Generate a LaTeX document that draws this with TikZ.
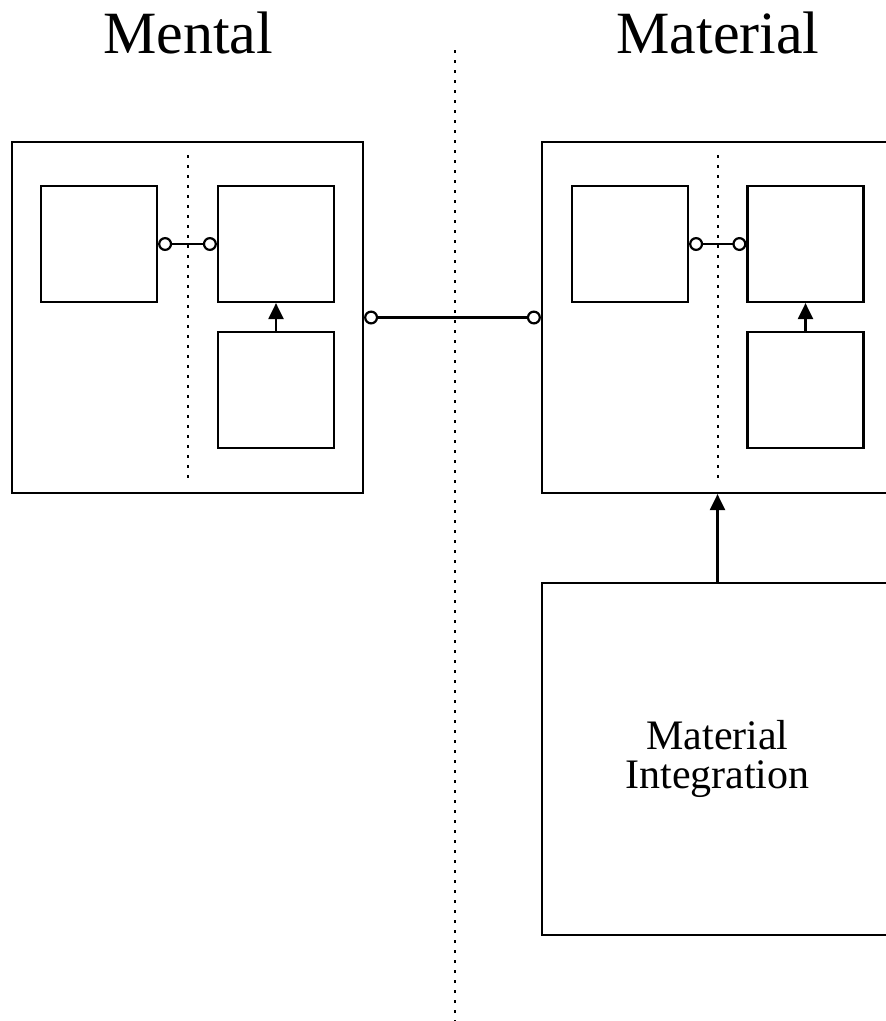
\documentclass[tikz,border=0pt]{standalone}
\usepackage{fontspec}
\setmainfont{Liberation Serif}
\usetikzlibrary{arrows.meta, positioning, calc}
\tikzset{
  outer/.style={draw, line width=2.2pt, minimum width=351pt, minimum height=351pt, inner sep=0pt},
  inner/.style={draw, line width=2.2pt, minimum width=116pt, minimum height=116pt, inner sep=0pt},
  sep/.style={line width=2.8pt, dash pattern=on 2.8pt off 7.2pt},
  link/.style={line width=2.2pt, {Circle[open, length=14pt, line width=2.2pt]}-{Circle[open, length=14pt, line width=2.2pt]}},
  push/.style={line width=2.2pt, -{Triangle[length=16pt, width=15pt]}},
  title/.style={font=\fontsize{60}{60}\selectfont, anchor=base, inner sep=0pt}
}
\begin{document}
\begin{tikzpicture}[x=1pt, y=-1pt]
  \useasboundingbox (0,0) rectangle (886,1021);
  \clip (0,0) rectangle (886,1021);
  % titles and the middle divider
  \node[title] (tmen) at (188,53) {Mental};
  \node[title] (tmat) at (718,53) {Material};
  \draw[sep] (455,50) -- (455,1021);
  % mental side
  \node[outer] (men) at (187.5,317.5) {};
  \node[inner] (menA) at (99,244) {};
  \node[inner] (menB) at (276,244) {};
  \node[inner] (menC) at (276,390) {};
  \draw[sep] (188,155) -- (188,478);
  \draw[link] (menA) -- (menB);
  \draw[push] (menC) -- (menB);
  % material side
  \node[outer] (mat) at (717.5,317.5) {};
  \node[inner] (matA) at (630,244) {};
  \node[inner] (matB) at (805.5,244) {};
  \node[inner] (matC) at (805.5,390) {};
  \draw[sep] (718,155) -- (718,478);
  \draw[link] (matA) -- (matB);
  \draw[push] (matC) -- (matB);
  \draw[link] (men.east) -- (mat.west);
  % integration box
  \node[outer, minimum height=352pt, align=center, font=\fontsize{42}{39}\selectfont] (integ) at (717.5,759) {Material\\Integration};
  \draw[push] (integ.north) -- (mat.south);
\end{tikzpicture}
\end{document}
